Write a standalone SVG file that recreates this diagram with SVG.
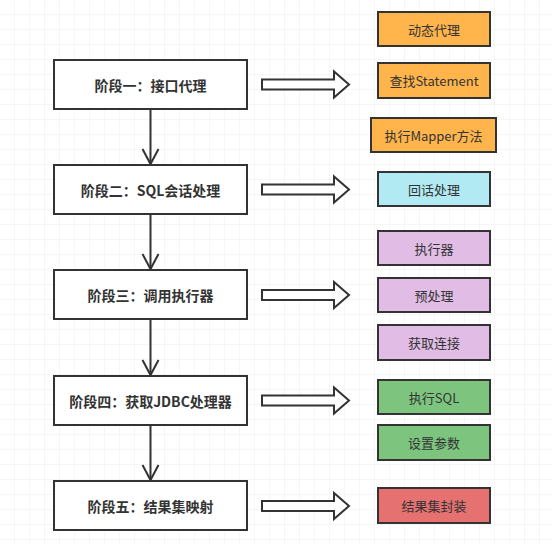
<svg xmlns="http://www.w3.org/2000/svg" width="552" height="544" viewBox="0 0 552 544">
<defs>
<pattern id="g" x="0" y="0" width="15" height="15" patternUnits="userSpaceOnUse">
<path d="M15 0V15M0 15H15" fill="none" stroke="#ededed" stroke-width="1"/>
</pattern>
<marker id="open" markerWidth="20" markerHeight="20" refX="16" refY="9" orient="auto" markerUnits="userSpaceOnUse">
<path d="M1 1L16 9L1 17" fill="none" stroke="#333" stroke-width="2"/>
</marker>
<style>
.main rect{fill:#fff;stroke:#333;stroke-width:2}
.main text{font-family:"Noto Sans CJK SC","Noto Sans",sans-serif;font-size:14px;font-weight:bold;fill:#333;text-anchor:middle;dominant-baseline:central}
.side rect{stroke:#333;stroke-width:2}
.side text{font-family:"Noto Sans CJK SC","Noto Sans",sans-serif;font-size:13px;fill:#333;text-anchor:middle;dominant-baseline:central}
.orange{fill:#FFB54C}.cyan{fill:#B1EAF2}.purple{fill:#E1BDE5}.green{fill:#7DC57E}.red{fill:#E57171}
.flow{stroke:#333;stroke-width:2;fill:none}
.block{fill:#fff;stroke:#333;stroke-width:2;stroke-linejoin:miter}
</style>
</defs>
<rect width="552" height="544" fill="#fff"/>
<rect x="-0.5" y="-0.5" width="553" height="545" fill="url(#g)"/>

<g id="connectors">
<line class="flow" x1="150.5" y1="109" x2="150.5" y2="164" marker-end="url(#open)"/>
<line class="flow" x1="150.5" y1="214" x2="150.5" y2="269" marker-end="url(#open)"/>
<line class="flow" x1="150.5" y1="319" x2="150.5" y2="375" marker-end="url(#open)"/>
<line class="flow" x1="150.5" y1="425" x2="150.5" y2="480" marker-end="url(#open)"/>
<path class="block" d="M262 79.5H334V71.5L349 84.5L334 97.5V89.5H262Z"/>
<path class="block" d="M262 184.5H334V176.5L349 189.5L334 202.5V194.5H262Z"/>
<path class="block" d="M262 290H334V282L349 295L334 308V300H262Z"/>
<path class="block" d="M262 395.5H334V387.5L349 400.5L334 413.5V405.5H262Z"/>
<path class="block" d="M262 501H334V493L349 506L334 519V511H262Z"/>
</g>

<g id="stage1" class="main"><rect x="54" y="60" width="193" height="49"/><text x="150.5" y="84.5">阶段一：接口代理</text></g>
<g id="stage2" class="main"><rect x="54" y="165" width="193" height="49"/><text x="150.5" y="189.5">阶段二：SQL会话处理</text></g>
<g id="stage3" class="main"><rect x="54" y="270" width="193" height="49"/><text x="150.5" y="294.5">阶段三：调用执行器</text></g>
<g id="stage4" class="main"><rect x="54" y="376" width="193" height="49"/><text x="150.5" y="400.5">阶段四：获取JDBC处理器</text></g>
<g id="stage5" class="main"><rect x="54" y="481" width="193" height="49"/><text x="150.5" y="505.5">阶段五：结果集映射</text></g>

<g id="dynproxy" class="side"><rect class="orange" x="378" y="12" width="112" height="34"/><text x="434" y="29">动态代理</text></g>
<g id="findstmt" class="side"><rect class="orange" x="378" y="63" width="112" height="35"/><text x="434" y="80.5">查找Statement</text></g>
<g id="mapper" class="side"><rect class="orange" x="371" y="118" width="125" height="34"/><text x="433.5" y="135">执行Mapper方法</text></g>
<g id="session" class="side"><rect class="cyan" x="378" y="172" width="112" height="34"/><text x="434" y="189">回话处理</text></g>
<g id="executor" class="side"><rect class="purple" x="378" y="231" width="112" height="34"/><text x="434" y="248">执行器</text></g>
<g id="prep" class="side"><rect class="purple" x="378" y="278" width="112" height="34"/><text x="434" y="295">预处理</text></g>
<g id="conn" class="side"><rect class="purple" x="378" y="325" width="112" height="35"/><text x="434" y="342.5">获取连接</text></g>
<g id="execsql" class="side"><rect class="green" x="378" y="380" width="112" height="34"/><text x="434" y="397">执行SQL</text></g>
<g id="params" class="side"><rect class="green" x="378" y="425" width="112" height="35"/><text x="434" y="442.5">设置参数</text></g>
<g id="result" class="side"><rect class="red" x="378" y="488" width="112" height="35"/><text x="434" y="505.5">结果集封装</text></g>
</svg>
